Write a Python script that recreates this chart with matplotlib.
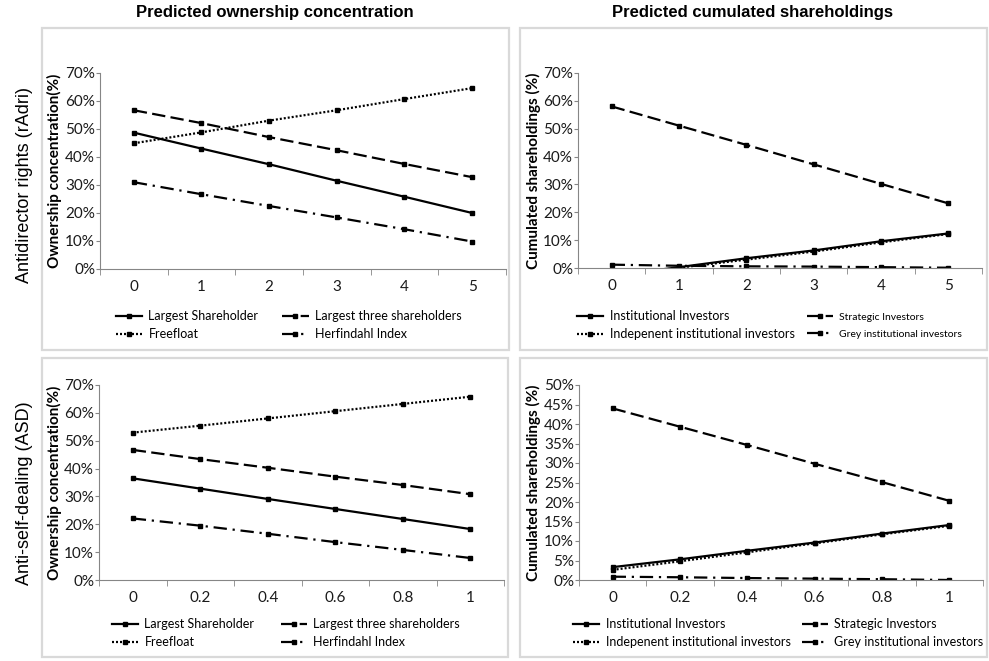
import matplotlib
matplotlib.use("Agg")
import matplotlib.pyplot as plt
from matplotlib.patches import Rectangle
from matplotlib.ticker import FixedLocator, PercentFormatter

W, H = 989, 661

# values, in %
rights_labels = ["0", "1", "2", "3", "4", "5"]
asd_labels = ["0", "0.2", "0.4", "0.6", "0.8", "1"]

# top left: ownership concentration vs antidirector rights
rights_largest = [48.7, 43.0, 37.4, 31.5, 25.8, 20.0]
rights_largest3 = [56.7, 52.1, 47.1, 42.4, 37.5, 32.8]
rights_freefloat = [44.9, 48.8, 53.0, 56.7, 60.7, 64.6]
rights_herfindahl = [31.0, 26.7, 22.5, 18.4, 14.2, 9.8]

# top right: cumulated shareholdings vs antidirector rights
rights_institutional = [-2.8, 0.3, 3.5, 6.3, 9.6, 12.4]
rights_strategic = [58.0, 51.1, 44.2, 37.2, 30.2, 23.2]
rights_independent = [-2.9, 0.1, 3.0, 5.9, 9.2, 12.2]
rights_grey = [1.2, 0.8, 0.6, 0.5, 0.3, 0.1]

# bottom left: ownership concentration vs anti-self-dealing
asd_largest = [36.5, 32.8, 29.1, 25.5, 21.9, 18.3]
asd_largest3 = [46.7, 43.4, 40.3, 37.1, 34.1, 30.8]
asd_freefloat = [52.9, 55.4, 58.0, 60.6, 63.2, 65.8]
asd_herfindahl = [22.1, 19.5, 16.6, 13.6, 10.8, 7.9]

# bottom right: cumulated shareholdings vs anti-self-dealing
asd_institutional = [3.3, 5.3, 7.5, 9.6, 11.9, 14.1]
asd_strategic = [44.0, 39.3, 34.6, 29.8, 25.1, 20.3]
asd_independent = [2.6, 4.8, 7.1, 9.4, 11.7, 13.9]
asd_grey = [0.85, 0.7, 0.5, 0.35, 0.2, 0.0]

TICK_FONT = "Lato"
HEAD_FONT = "Liberation Sans"

STYLES = {
    "solid": dict(linestyle="-"),
    "dash": dict(linestyle=(0, (6, 2.4))),
    "dot": dict(linestyle=(0, (0.9, 0.9))),
    "dashdot": dict(linestyle=(0, (6, 2.6, 1, 2.6))),
}


def rect(l, t, r, b):
    return [l / W, 1 - b / H, (r - l) / W, (b - t) / H]


fig = plt.figure(figsize=(W / 100, H / 100), dpi=100)

# light grey panel frames
for l, t, r, b in [(42, 28, 509, 350), (520, 28, 987, 350),
                   (42, 358, 508, 657), (520, 358, 987, 657)]:
    fig.patches.append(Rectangle((l / W, 1 - b / H), (r - l) / W, (b - t) / H,
                                 transform=fig.transFigure, fill=False,
                                 edgecolor="#d9d9d9", linewidth=1.6))


def panel(pos, labels, series, ymax, ystep, ylabel, label_x, leg_xy, colspace,
          small=()):
    l, t, r, b = pos
    ax = fig.add_axes(rect(*pos))
    x = list(range(len(labels)))
    handles = []
    for vals, style, name in series:
        h, = ax.plot(x, vals, color="black", linewidth=1.6, marker="s",
                     markersize=3.2, **STYLES[style], label=name)
        handles.append(h)
    ax.set_xlim(-0.5, len(labels) - 0.5)
    ax.set_ylim(0, ymax)
    ax.set_xticks(x)
    ax.set_xticklabels(labels)
    ax.xaxis.set_minor_locator(FixedLocator([i - 0.5 for i in range(len(labels) + 1)]))
    ax.tick_params(axis="x", which="major", length=0, pad=8)
    ax.tick_params(axis="x", which="minor", length=4, color="#868686")
    ax.set_yticks(range(0, ymax + 1, ystep))
    ax.yaxis.set_major_formatter(PercentFormatter(decimals=0))
    ax.tick_params(axis="y", length=3, color="#868686", pad=0.5)
    for lab in ax.get_xticklabels() + ax.get_yticklabels():
        lab.set_fontfamily(TICK_FONT)
        lab.set_fontsize(11)
        lab.set_color("#1a1a1a")
    for s in ["top", "right"]:
        ax.spines[s].set_visible(False)
    for s in ["left", "bottom"]:
        ax.spines[s].set_color("#868686")
    ax.set_ylabel(ylabel, fontfamily=TICK_FONT, fontweight="bold", fontsize=11)
    ax.yaxis.set_label_coords((label_x - l) / (r - l), 0.5)
    # legend rows: Excel fills row by row, matplotlib column by column
    order = [handles[0], handles[2], handles[1], handles[3]]
    leg = ax.legend(handles=order, labels=[h.get_label() for h in order],
                    ncol=2, frameon=False, loc="upper left",
                    bbox_to_anchor=(leg_xy[0] / W, 1 - leg_xy[1] / H),
                    bbox_transform=fig.transFigure, borderpad=0,
                    borderaxespad=0, handlelength=2.1, handletextpad=0.5,
                    columnspacing=colspace, labelspacing=0.5,
                    prop={"family": TICK_FONT, "size": 9})
    for t in leg.get_texts():
        if t.get_text() in small:
            t.set_fontsize(7.5)
    return ax


panel((100, 73, 506, 269), rights_labels,
      [(rights_largest, "solid", "Largest Shareholder"),
       (rights_largest3, "dash", "Largest three shareholders"),
       (rights_freefloat, "dot", "Freefloat"),
       (rights_herfindahl, "dashdot", "Herfindahl Index")],
      70, 10, "Ownership concentration(%)", 62, (116, 310), 1.9)

panel((578, 73, 982, 268), rights_labels,
      [(rights_institutional, "solid", "Institutional Investors"),
       (rights_strategic, "dash", "Strategic Investors"),
       (rights_independent, "dot", "Indepenent institutional investors"),
       (rights_grey, "dashdot", "Grey institutional investors")],
      70, 10, "Cumulated shareholdings (%)", 541, (577, 310), 1.0,
      small=("Strategic Investors", "Grey institutional investors"))

panel((99, 385, 504, 580), asd_labels,
      [(asd_largest, "solid", "Largest Shareholder"),
       (asd_largest3, "dash", "Largest three shareholders"),
       (asd_freefloat, "dot", "Freefloat"),
       (asd_herfindahl, "dashdot", "Herfindahl Index")],
      70, 10, "Ownership concentration(%)", 62, (112, 618), 2.1)

panel((579, 385, 983, 580), asd_labels,
      [(asd_institutional, "solid", "Institutional Investors"),
       (asd_strategic, "dash", "Strategic Investors"),
       (asd_independent, "dot", "Indepenent institutional investors"),
       (asd_grey, "dashdot", "Grey institutional investors")],
      50, 5, "Cumulated shareholdings (%)", 541, (573, 618), 0.9)

# column headings and row labels
fig.text(275 / W, 1 - 12 / H, "Predicted ownership concentration", ha="center",
         va="center", fontfamily=HEAD_FONT, fontweight="bold", fontsize=12)
fig.text(753 / W, 1 - 12 / H, "Predicted cumulated shareholdings", ha="center",
         va="center", fontfamily=HEAD_FONT, fontweight="bold", fontsize=12)
fig.text(25 / W, 1 - 185 / H, "Antidirector rights (rAdri)", rotation=90,
         ha="center", va="center", fontfamily=HEAD_FONT, fontsize=13)
fig.text(25 / W, 1 - 493 / H, "Anti-self-dealing (ASD)", rotation=90,
         ha="center", va="center", fontfamily=HEAD_FONT, fontsize=13)

fig.savefig("out.png", dpi=100)
